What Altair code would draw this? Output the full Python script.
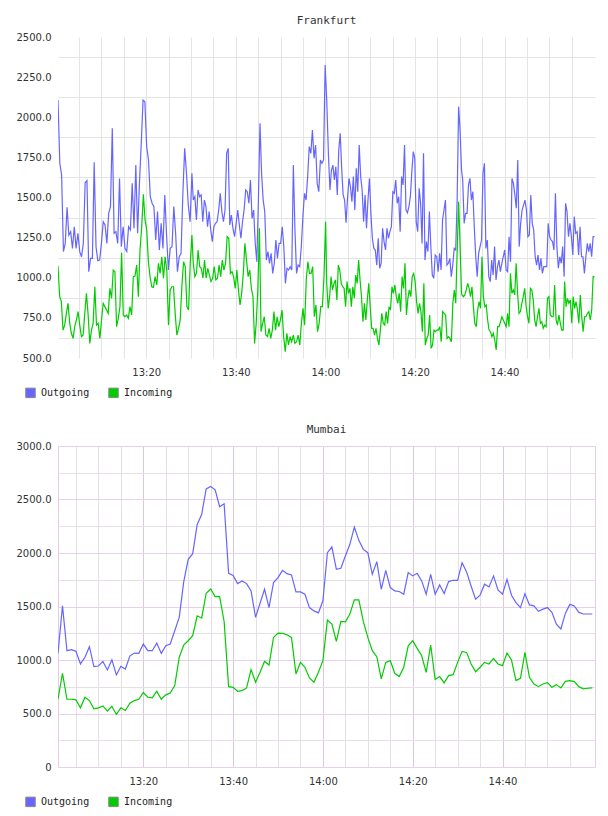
import altair as alt
import pandas as pd
import numpy as np

BLUE = "#6666ff"
GREEN = "#00cc00"
SERIES = ["Outgoing", "Incoming"]

# ---------------- Frankfurt (minutes after 13:00, read in four strips) ----------------
FR_OUT_STRIPS = [
    (0.3, 30.2, [2107,1713,1640,1163,1214,1439,1266,1287,1183,1318,1183,1277,1163,1131,1214,1592,1605,1038,1121,1121,
                 1719,1194,1106,1110,1214,1349,1329,1214,1401,1443,1931,1277,1287,1214,1619,1194,1318,1183,1163,1318,
                 1298,1588,1308,1702,1277,1588,1837,2107,2097,1817,1734,1505,1464,1443,1235,1412,1173,1339,1183,1516,
                 1266,1048,1183,1194,1443,1277,1038,1131,1152,1526,1806,1651,1453,1349,1651]),
    (30.5, 60.3, [1484,1505,1360,1547,1505,1516,1349,1484,1443,1318,1412,1298,1225,1318,1339,1349,1422,1526,1412,1349,
                  1422,1775,1806,1329,1391,1308,1256,1339,1422,1329,1246,1349,1422,1547,1536,1464,1609,1370,1422,1214,
                  1100,1484,1962,1651,1484,1412,1110,1163,1090,1152,1027,1090,1235,1121,1214,1214,1318,1194,965,1059,
                  1048,1069,1048,1702,1298,1027,1079,1069,1194,1381,1526,1484,1630,1817,1775,1920,1744,1827,1588,1536,
                  1734,1713,1734,2326,2107]),
    (60.7, 90.4, [1754,1547,1671,1702,1609,1692,1516,1796,1900,1682,1516,1484,1343,1495,1619,1568,1474,1630,1422,1682,
                  1536,1827,1630,1547,1349,1516,1308,1484,1619,1401,1246,1183,1173,1079,1246,1059,1090,1308,1225,1173,
                  1308,1246,1287,1318,1536,1526,1609,1464,1505,1287,1630,1578,1827,1422,1405,1443,1505,1661,1786,1744,
                  1349,1287,1557,1464,1214,1775,1110,1225,1163,1412,1194,1017,997,1142,1131,1038,1152,1048,1360,1422,
                  1484,1079,1090,1121,1007,1079,1183,1173,1484,2066,1920,1671]),
    (90.66, 120.1, [1609,1339,1401,1401,1578,1619,1484,1536,1318,1131,1007,1152,1194,1235,1651,1713,1183,1235,1007,976,
                    1110,1017,1194,986,1069,1110,1038,1090,1131,1173,1048,1038,1256,1100,1619,1588,1516,1433,1734,1194,
                    1339,1422,1453,1484,1422,1256,1266,1516,1339,1298,1131,1079,1142,1048,1121,1027,1069,1069,1069,1339,
                    1256,1235,1225,1173,1526,1194,1059,1131,1090,1194,1007,1464,1412,1256,1339,1256,1142,1381,1277,1287,
                    1142,1318,1131,1131,1027,1131,1214,1163,1214,1131,1256,1256]),
]
FR_IN_STRIPS = [
    (0.3, 30.2, [1073,882,851,674,705,778,841,716,654,622,695,737,789,705,633,643,778,903,768,591,
                 674,716,944,705,716,622,737,841,820,799,778,934,872,1048,1038,695,747,820,1156,768,
                 757,768,747,820,768,1007,1011,1079,882,1173,1318,1520,1360,1298,1100,1007,944,940,1007,955,
                 1090,1027,1131,997,1131,1048,705,924,944,944,778,643,685,737,944,1100,1069,820,799,1090,1266]),
    (30.5, 60.05, [1090,1007,1027,1173,1069,1059,997,1110,997,1059,1017,976,997,1069,986,997,1079,1007,1110,1048,
                   1090,1256,1246,1027,1038,1007,934,1048,924,830,903,1027,1214,1110,1007,1048,934,882,591,716,
                   924,1308,664,716,757,643,633,685,622,674,789,674,757,695,737,799,633,539,654,581,
                   633,601,643,591,601,643,581,716,809,705,986,1100,1027,1027,1069,757,830,664,716,820,
                   820,1007,1349]),
    (60.3, 90.4, [965,809,882,1007,924,965,986,861,1079,1048,965,944,934,820,976,903,934,820,944,872,
                  1017,965,1110,986,882,726,841,737,861,965,820,685,685,643,685,622,581,674,778,716,
                  705,789,716,820,799,944,903,955,882,841,903,789,1007,934,1090,768,872,924,882,1007,
                  1027,976,851,778,841,789,664,965,581,622,643,768,560,581,674,664,674,674,695,601,
                  789,778,768,622,633,622,601,841,924,841,1173,1474,1194,903]),
    (90.5, 120.1, [893,882,893,924,965,934,882,944,820,716,695,799,851,809,1131,882,820,830,737,674,
                   664,633,654,612,550,695,695,726,757,737,716,695,778,695,1027,903,924,893,1090,903,
                   778,789,841,882,934,820,757,716,934,924,861,737,695,757,809,716,726,685,705,695,
                   872,882,768,757,757,955,737,705,768,716,674,674,976,820,872,841,861,716,882,809,
                   851,799,716,893,757,664,757,757,778,789,737,799,1007,1007]),
]

# ---------------- Mumbai (one sample per minute, 13:01 .. 15:00) ----------------
MU_START = 1.0
MU_OUT = [1062,1506,1087,1096,1081,963,1025,1124,938,944,987,907,1003,860,941,916,1037,1065,1062,1149,
          1087,1087,1158,1062,1134,1149,1273,1398,1730,1941,1994,2267,2360,2599,2621,2590,2432,2460,1810,1789,
          1714,1739,1714,1646,1398,1530,1661,1490,1724,1770,1838,1807,1795,1636,1636,1615,1490,1459,1440,1553,
          2003,2056,1848,1857,1972,2081,2242,2118,2034,2003,1801,1919,1661,1838,1677,1646,1640,1615,1817,1786,
          1810,1739,1615,1801,1615,1702,1621,1733,1745,1745,1910,1823,1692,1568,1605,1708,1683,1786,1655,1615,
          1754,1605,1537,1490,1620,1515,1506,1455,1475,1490,1445,1335,1290,1435,1520,1505,1445,1430,1430,1430]
MU_IN = [633,876,633,633,627,553,652,621,543,553,571,522,568,491,553,528,596,621,633,696,
         652,646,708,633,674,692,761,1025,1140,1180,1227,1413,1391,1624,1664,1593,1593,1360,751,745,
         708,714,739,910,792,885,988,953,1211,1252,1248,1236,1211,870,978,932,832,792,885,994,
         1373,1335,1174,1360,1357,1429,1562,1562,1360,1211,1087,1031,823,978,994,876,845,932,1133,1180,
         1109,1040,885,1140,817,845,786,854,863,978,1081,1071,963,891,932,978,963,1015,963,947,
         1065,1000,807,829,1071,838,776,751,776,789,745,770,739,801,807,798,751,730,736,739]

# ---------------- axes: tick labels and grid positions ----------------
X_LABEL_MIN = [20, 40, 60, 80, 100]
X_LABEL_TXT = ["13:20", "13:40", "14:00", "14:20", "14:40"]
X_GRID_MIN = list(range(5, 120, 5))
FR_Y_LABELS = [500, 750, 1000, 1250, 1500, 1750, 2000, 2250, 2500]
FR_Y_GRID = [625, 875, 1125, 1375, 1625, 1875, 2125, 2375]
MU_Y_LABELS = [0, 500, 1000, 1500, 2000, 2500, 3000]
MU_Y_GRID = [250, 750, 1250, 1750, 2250, 2750]


def strips_df(strips, name):
    rows = []
    for start, end, vals in strips:
        for t, v in zip(np.linspace(start, end, len(vals)), vals):
            rows.append({"minute": float(t), "value": v, "series": name})
    return rows


fr_df = pd.DataFrame(strips_df(FR_OUT_STRIPS, "Outgoing") + strips_df(FR_IN_STRIPS, "Incoming"))
mu_rows = []
for name, vals in (("Outgoing", MU_OUT), ("Incoming", MU_IN)):
    for i, v in enumerate(vals):
        mu_rows.append({"minute": MU_START + i, "value": v, "series": name})
mu_df = pd.DataFrame(mu_rows)

x_label_expr = "''"
for m, txt in reversed(list(zip(X_LABEL_MIN, X_LABEL_TXT))):
    x_label_expr = f"datum.value == {m} ? '{txt}' : ({x_label_expr})"

AXIS_COMMON = dict(domain=False, ticks=False, labelFont="DejaVu Sans", labelFontSize=10,
                   labelColor="#333333", labelOverlap=False, labelFlush=False, title=None)


def panel(df, title, xdomain, ydomain, ylabels, ygrid, grid_minor, grid_major_x, grid_major_y, y_is_mumbai, view_stroke):
    yvals = sorted(ylabels + ygrid)
    ylab_list = ",".join(str(v) for v in ylabels)
    if y_is_mumbai:
        ylab_expr = f"indexof([{ylab_list}], datum.value) >= 0 ? (datum.value == 0 ? '0' : format(datum.value, '.1f')) : ''"
    else:
        ylab_expr = f"indexof([{ylab_list}], datum.value) >= 0 ? format(datum.value, '.1f') : ''"
    x_enc = alt.X("minute:Q", scale=alt.Scale(domain=xdomain, nice=False, zero=False),
                  axis=alt.Axis(values=X_GRID_MIN, labelExpr=x_label_expr, labelPadding=9,
                                gridColor=alt.condition(f"indexof([{','.join(map(str, X_LABEL_MIN))}], datum.value) >= 0",
                                                        alt.value(grid_major_x), alt.value(grid_minor)),
                                **AXIS_COMMON))
    y_enc = alt.Y("value:Q", scale=alt.Scale(domain=ydomain, nice=False, zero=False),
                  axis=alt.Axis(values=yvals, labelExpr=ylab_expr, labelPadding=7, minExtent=52, maxExtent=52,
                                gridColor=alt.condition(f"indexof([{ylab_list}], datum.value) >= 0",
                                                        alt.value(grid_major_y), alt.value(grid_minor)),
                                **AXIS_COMMON))
    base = alt.Chart(df)
    out_line = base.transform_filter("datum.series == 'Outgoing'").mark_line(
        color=BLUE, strokeWidth=1.2, clip=True).encode(x=x_enc, y=y_enc)
    in_line = base.transform_filter("datum.series == 'Incoming'").mark_line(
        color=GREEN, strokeWidth=1.2, clip=True).encode(x=x_enc, y=y_enc)
    legend_layer = base.transform_filter("false").mark_square(filled=True).encode(
        x=x_enc, y=y_enc,
        fill=alt.Fill("series:N", scale=alt.Scale(domain=SERIES, range=[BLUE, GREEN]),
                      legend=alt.Legend(orient="none", legendX=-33, legendY=350, direction="horizontal",
                                        title=None, symbolType="square", symbolSize=90,
                                        symbolStrokeColor="#888888", symbolStrokeWidth=1, symbolOpacity=1,
                                        labelFont="DejaVu Sans Mono", labelFontSize=10, labelColor="#222222",
                                        labelOffset=5, columnPadding=16, padding=0)))
    return alt.layer(out_line, in_line, legend_layer).properties(
        width=537, height=321,
        title=alt.TitleParams(title, font="DejaVu Sans Mono", fontSize=11, fontWeight="normal",
                              color="#333333", anchor="middle", offset=6),
        view=alt.ViewBackground(stroke=view_stroke, strokeWidth=1),
    )


fr = panel(fr_df, "Frankfurt", [0.3, 120.2], [500, 2500], FR_Y_LABELS, FR_Y_GRID,
           "#e4e4e4", "#e4e4e4", "transparent", False, "transparent")
mu = panel(mu_df, "Mumbai", [1.0, 120.6], [0, 3000], MU_Y_LABELS, MU_Y_GRID,
           "#e6dfe8", "#dcc6e2", "#e8d0ec", True, "#e2cce8")

chart = alt.vconcat(fr, mu, spacing=22).resolve_scale(
    x="independent", y="independent", fill="independent").resolve_legend(fill="independent").properties(
    padding={"top": 14, "left": 5, "right": 5, "bottom": 5}).configure(
    background="white").configure_view(strokeWidth=1)

chart.save("out.html", embed_options={"renderer": "svg", "actions": False})
